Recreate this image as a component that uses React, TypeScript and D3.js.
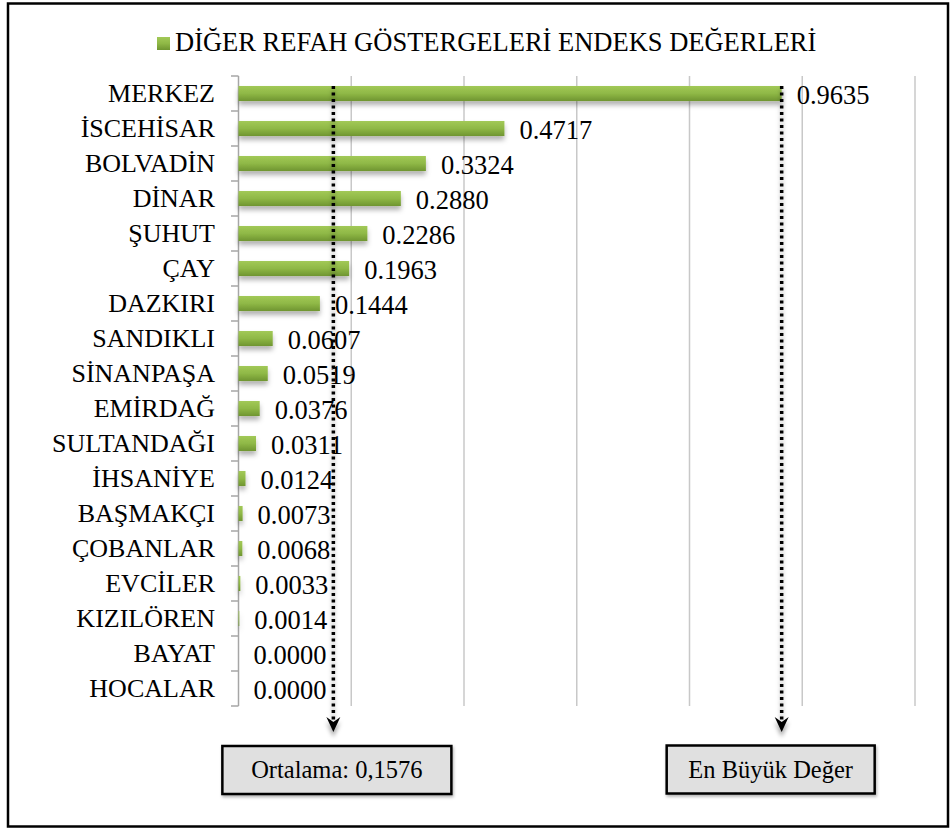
import React from 'react';
import * as d3 from 'd3';

const districts: string[] = [
  'MERKEZ', 'İSCEHİSAR', 'BOLVADİN', 'DİNAR', 'ŞUHUT', 'ÇAY', 'DAZKIRI', 'SANDIKLI', 'SİNANPAŞA',
  'EMİRDAĞ', 'SULTANDAĞI', 'İHSANİYE', 'BAŞMAKÇI', 'ÇOBANLAR', 'EVCİLER', 'KIZILÖREN', 'BAYAT', 'HOCALAR',
];
const indexValues: number[] = [
  0.9635, 0.4717, 0.3324, 0.288, 0.2286, 0.1963, 0.1444, 0.0607, 0.0519,
  0.0376, 0.0311, 0.0124, 0.0073, 0.0068, 0.0033, 0.0014, 0.0, 0.0,
];
const gridTicks: number[] = [0.2, 0.4, 0.6, 0.8, 1.0, 1.2];
const seriesName = 'DİĞER REFAH GÖSTERGELERİ ENDEKS DEĞERLERİ';

const W = 951;
const H = 830;
const font = '"Liberation Serif", "Times New Roman", serif';

const App: React.FC = () => {
  const x = d3.scaleLinear().domain([0, 1.2]).range([238.5, 915]);
  const y = d3.scaleBand<string>().domain(districts).range([76, 706]).paddingInner(0.57).paddingOuter(0.285);
  const fmt = d3.format('.4f');

  const avg = d3.mean(indexValues) ?? 0;
  const max = d3.max(indexValues) ?? 0;
  const avgX = x(avg) + 6; // arrow was placed by hand in the original
  const maxX = x(max);
  const arrowTop = 86;
  const arrowTip = 732;

  const step = y.step();
  const boundaries = d3.range(districts.length + 1).map((i) => 76 + i * step);

  const head = (ax: number) =>
    `M${ax},${arrowTip} L${ax - 7},${arrowTip - 15} L${ax},${arrowTip - 10} L${ax + 7},${arrowTip - 15} Z`;

  return (
    <svg width={W} height={H} style={{ position: 'absolute', left: 0, top: 0, background: '#fff' }} fontFamily={font}>
      <defs>
        <linearGradient id="barGrad" x1="0" y1="0" x2="0" y2="1">
          <stop offset="0" stopColor="#a2c957" />
          <stop offset="0.5" stopColor="#8fb846" />
          <stop offset="1" stopColor="#6f9530" />
        </linearGradient>
        <filter id="barShadow" x="-5%" y="-50%" width="110%" height="250%">
          <feDropShadow dx="0" dy="4" stdDeviation="2.5" floodColor="#000" floodOpacity="0.3" />
        </filter>
        <filter id="arrowShadow" x="-200%" y="-5%" width="500%" height="115%">
          <feDropShadow dx="0" dy="5" stdDeviation="2" floodColor="#000" floodOpacity="0.35" />
        </filter>
        <filter id="boxShadow" x="-10%" y="-20%" width="120%" height="150%">
          <feDropShadow dx="1" dy="2" stdDeviation="1.5" floodColor="#000" floodOpacity="0.3" />
        </filter>
      </defs>

      {/* outer frame */}
      <rect x={8} y={3.5} width={940} height={823} fill="#fff" stroke="#000" strokeWidth={2.5} />

      {/* legend */}
      <rect x={157} y={37} width={13} height={13} fill="url(#barGrad)" />
      <text x={175} y={51} fontSize={26.5} fill="#000">{seriesName}</text>

      {/* gridlines */}
      {gridTicks.map((t) => (
        <line key={t} x1={x(t)} x2={x(t)} y1={76} y2={706} stroke="#c8c8c8" strokeWidth={1.5} />
      ))}

      {/* category axis */}
      <line x1={238.5} x2={238.5} y1={76} y2={706} stroke="#a6a6a6" strokeWidth={1.5} />
      {boundaries.map((b, i) => (
        <line key={i} x1={231} x2={238.5} y1={b} y2={b} stroke="#a6a6a6" strokeWidth={1.5} />
      ))}
      {districts.map((d) => (
        <text key={d} x={215} y={(y(d) ?? 0) + y.bandwidth() / 2 + 8.5} fontSize={26} textAnchor="end" fill="#000">
          {d}
        </text>
      ))}

      {/* bars */}
      <g filter="url(#barShadow)">
        {districts.map((d, i) => (
          <rect key={d} x={x(0)} y={y(d)} width={Math.max(0, x(indexValues[i]) - x(0))} height={y.bandwidth()}
            fill="url(#barGrad)" />
        ))}
      </g>

      {/* value labels */}
      {districts.map((d, i) => (
        <text key={d} x={x(indexValues[i]) + 15} y={(y(d) ?? 0) + y.bandwidth() / 2 + 10} fontSize={26.5} fill="#000">
          {fmt(indexValues[i])}
        </text>
      ))}

      {/* annotation arrows */}
      <g filter="url(#arrowShadow)">
        {[avgX, maxX].map((ax, i) => (
          <g key={i}>
            <line x1={ax} x2={ax} y1={arrowTop} y2={arrowTip - 12} stroke="#000" strokeWidth={3.5}
              strokeDasharray="3 3.5" />
            <path d={head(ax)} fill="#000" />
          </g>
        ))}
      </g>

      {/* annotation boxes */}
      <g filter="url(#boxShadow)">
        <rect x={avgX - 111} y={746} width={229} height={48} fill="#e0e0e0" stroke="#000" strokeWidth={2.5} />
        <rect x={maxX - 115} y={745.5} width={208} height={48} fill="#e0e0e0" stroke="#000" strokeWidth={2.5} />
      </g>
      <text x={avgX + 3.5} y={778} fontSize={24.5} textAnchor="middle" fill="#000">
        {`Ortalama: ${fmt(avg).replace('.', ',')}`}
      </text>
      <text x={maxX - 11} y={778} fontSize={24.5} textAnchor="middle" fill="#000">
        En Büyük Değer
      </text>
    </svg>
  );
};

export default App;
